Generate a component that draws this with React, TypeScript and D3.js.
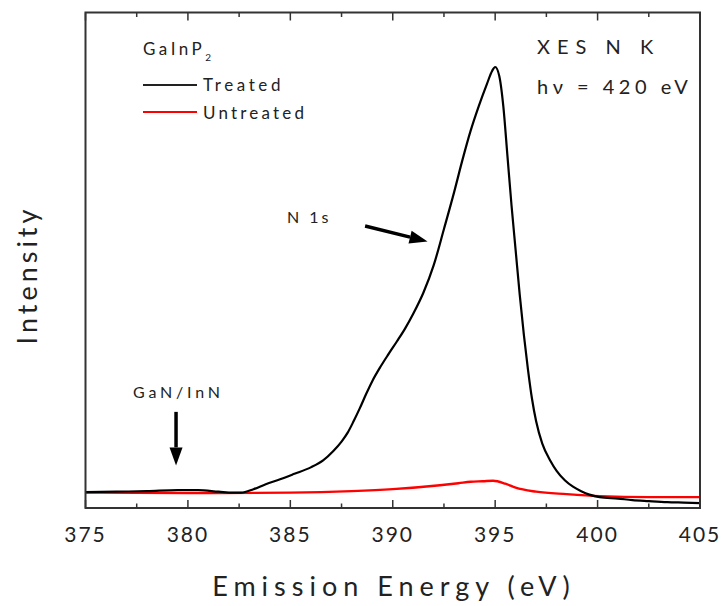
import React from 'react';
import * as d3 from 'd3';

// Treated GaInP2 (black)
const treatedEnergy = [375.0, 376.5, 378.0, 379.5, 380.5, 381.5, 382.2, 382.6, 383.2, 383.8, 384.5, 385.2, 386.0, 386.6, 387.1, 387.5, 387.8, 388.1, 388.4, 388.7, 389.0, 389.4, 389.8, 390.2, 390.6, 391.0, 391.5, 392.0, 392.5, 393.0, 393.4, 393.8, 394.2, 394.6, 394.85, 395.0, 395.2, 395.4, 395.6, 395.8, 396.0, 396.2, 396.4, 396.6, 396.8, 397.0, 397.3, 397.7, 398.0, 398.4, 398.8, 399.2, 399.6, 400.1, 401.0, 401.7, 402.5, 403.4, 404.2, 405.0];
const treatedIntensity = [3.2, 3.3, 3.4, 3.6, 3.6, 3.3, 3.1, 3.1, 3.8, 4.8, 5.8, 6.9, 8.2, 9.6, 11.5, 13.4, 15.2, 17.6, 20.2, 23.0, 25.6, 28.5, 31.1, 33.6, 36.2, 39.2, 43.5, 49.0, 56.3, 63.8, 70.2, 76.1, 81.1, 85.6, 88.2, 89.0, 87.2, 81.0, 71.0, 61.0, 52.0, 43.0, 35.0, 28.0, 22.0, 17.5, 13.0, 9.5, 7.5, 5.6, 4.3, 3.4, 2.7, 2.2, 1.9, 1.6, 1.4, 1.2, 1.1, 1.0];

// Untreated GaInP2 (red)
const untreatedEnergy = [375.0, 380.0, 385.0, 388.0, 390.0, 392.3, 393.2, 393.8, 394.4, 394.9, 395.5, 396.0, 397.0, 398.5, 400.1, 402.5, 405.0];
const untreatedIntensity = [3.1, 3.0, 3.1, 3.4, 3.8, 4.6, 5.0, 5.3, 5.4, 5.5, 4.9, 4.1, 3.3, 2.8, 2.4, 2.2, 2.2];

const xMajorTicks = [375, 380, 385, 390, 395, 400, 405];
const xMinorTicks = [377.5, 382.5, 387.5, 392.5, 397.5, 402.5];

export default function App() {
  const W = 723, H = 606;
  const left = 85.5, right = 700, top = 12.5, bottom = 508;
  const x = d3.scaleLinear().domain([375, 405]).range([left, right]);
  const y = d3.scaleLinear().domain([0, 100]).range([bottom, top]);

  const line = d3.line<[number, number]>()
    .x(d => x(d[0]))
    .y(d => y(d[1]))
    .curve(d3.curveMonotoneX);

  const treated = line(treatedEnergy.map((e, i) => [e, treatedIntensity[i]] as [number, number])) || '';
  const untreated = line(untreatedEnergy.map((e, i) => [e, untreatedIntensity[i]] as [number, number])) || '';

  const font = 'Lato, "Open Sans", sans-serif';

  // annotation arrows (data coords)
  const n1sFrom = [388.65, 56.9], n1sTo = [391.7, 53.8];
  const ganFrom = [379.42, 19.4], ganTo = [379.42, 8.6];

  const arrow = (from: number[], to: number[], key: string) => {
    const x1 = x(from[0]), y1 = y(from[1]), x2 = x(to[0]), y2 = y(to[1]);
    const ang = Math.atan2(y2 - y1, x2 - x1);
    const L = 18, Wd = 6.5;
    const bx = x2 - L * Math.cos(ang), by = y2 - L * Math.sin(ang);
    const px = -Math.sin(ang) * Wd, py = Math.cos(ang) * Wd;
    return (
      <g key={key}>
        <line x1={x1} y1={y1} x2={bx} y2={by} stroke="#000" strokeWidth={3.5} />
        <polygon points={`${x2},${y2} ${bx + px},${by + py} ${bx - px},${by - py}`} fill="#000" />
      </g>
    );
  };

  return (
    <svg width={W} height={H} style={{ position: 'absolute', left: 0, top: 0, background: '#fff' }} fontFamily={font}>
      <rect x={0} y={0} width={W} height={H} fill="#fff" />
      {/* curves */}
      <path d={untreated} fill="none" stroke="#ff0000" strokeWidth={2.4} />
      <path d={treated} fill="none" stroke="#000" strokeWidth={2.2} />

      {/* frame */}
      <rect x={left} y={top} width={right - left} height={bottom - top} fill="none" stroke="#333" strokeWidth={2} />

      {/* ticks */}
      {xMajorTicks.map(t => (
        <g key={'M' + t}>
          <line x1={x(t)} x2={x(t)} y1={bottom} y2={bottom - 8} stroke="#333" strokeWidth={1.5} />
          <line x1={x(t)} x2={x(t)} y1={top} y2={top + 8} stroke="#333" strokeWidth={1.5} />
          <text x={x(t)} y={bottom + 34} textAnchor="middle" fontSize={21} letterSpacing={2} fill="#222">{t}</text>
        </g>
      ))}
      {xMinorTicks.map(t => (
        <g key={'m' + t}>
          <line x1={x(t)} x2={x(t)} y1={bottom} y2={bottom - 4.5} stroke="#333" strokeWidth={1.5} />
          <line x1={x(t)} x2={x(t)} y1={top} y2={top + 4.5} stroke="#333" strokeWidth={1.5} />
        </g>
      ))}

      {/* axis titles */}
      <text x={394} y={596} textAnchor="middle" fontSize={27} letterSpacing={6} fill="#222">Emission Energy (eV)</text>
      <text transform="translate(37,275) rotate(-90)" textAnchor="middle" fontSize={27} letterSpacing={4} fill="#222">Intensity</text>

      {/* legend */}
      <text x={143} y={55} fontSize={17} letterSpacing={3.5} fill="#222">GaInP<tspan fontSize={10} dy={6}>2</tspan></text>
      <line x1={143} x2={197} y1={85} y2={85} stroke="#222" strokeWidth={2} />
      <text x={203} y={91} fontSize={17} letterSpacing={3.6} fill="#222">Treated</text>
      <line x1={143} x2={197} y1={112} y2={112} stroke="#ff0000" strokeWidth={2} />
      <text x={203} y={119} fontSize={17} letterSpacing={3.2} fill="#222">Untreated</text>

      {/* top-right label */}
      <text x={537} y={54} fontSize={20} letterSpacing={7} fill="#222">XES N K</text>
      <text x={537} y={94} fontSize={20} letterSpacing={4.5} fill="#222">hν = 420 eV</text>

      {/* annotations */}
      <text x={287} y={223} fontSize={16} letterSpacing={3} fill="#222">N 1s</text>
      <text x={133} y={398} fontSize={16} letterSpacing={3.8} fill="#222">GaN/InN</text>
      {arrow(n1sFrom, n1sTo, 'a1')}
      {arrow(ganFrom, ganTo, 'a2')}
    </svg>
  );
}
